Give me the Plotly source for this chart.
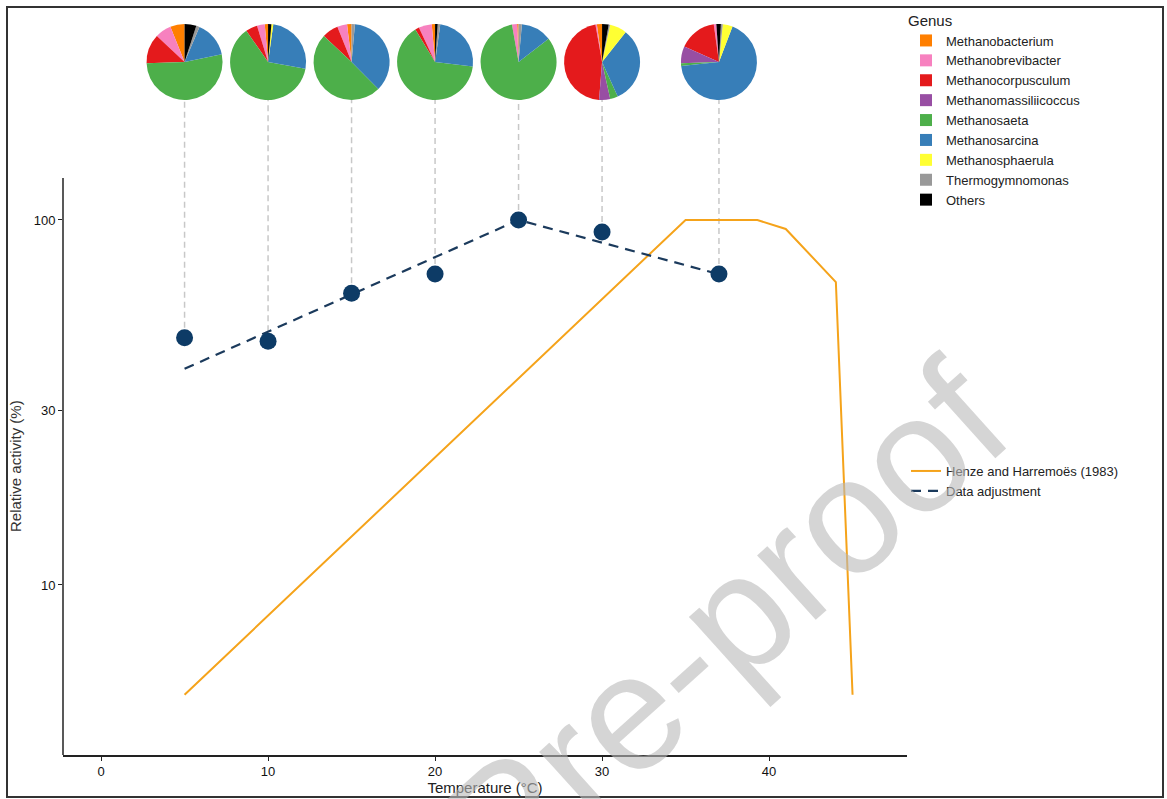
import plotly.graph_objects as go

# ---------------- data ----------------
genus = ["Methanobacterium", "Methanobrevibacter", "Methanocorpusculum",
         "Methanomassiliicoccus", "Methanosaeta", "Methanosarcina",
         "Methanosphaerula", "Thermogymnomonas", "Others"]
genus_colors = ["#FF7F00", "#F781BF", "#E41A1C", "#984EA3", "#4DAF4A",
                "#377EB8", "#FFFF33", "#999999", "#000000"]

pie_temps = [5, 10, 15, 20, 25, 30, 37]
pie_5 = [6.1, 6.9, 12.5, 0, 52.8, 15.3, 0, 1.4, 5.0]
pie_10 = [1.4, 3.3, 5.0, 0, 62.5, 25.6, 0.8, 0, 1.4]
pie_15 = [1.9, 4.2, 6.9, 0, 49.4, 36.1, 0, 1.4, 0]
pie_20 = [1.4, 5.6, 1.7, 0, 64.4, 24.7, 0, 1.1, 1.1]
pie_25 = [0.6, 2.2, 0, 0, 82.8, 13.1, 0, 1.4, 0]
pie_30 = [2.2, 0.6, 45.8, 4.7, 3.3, 32.5, 7.2, 0.6, 2.8]
pie_37 = [0, 1.1, 16.1, 7.2, 1.1, 67.5, 4.2, 0.8, 1.9]
pie_values = [pie_5, pie_10, pie_15, pie_20, pie_25, pie_30, pie_37]

obs_temp = [5, 10, 15, 20, 25, 30, 37]
obs_activity = [47.6, 46.5, 63.0, 71.1, 100, 92.7, 71.1]

fit_temp = [5, 25, 37]
fit_activity = [39.1, 100, 71.0]

henze_temp = [5, 35, 39.3, 41, 44, 45]
henze_activity = [5.0, 100, 100, 94.5, 67.6, 5.0]

x_ticks = [0, 10, 20, 30, 40]
y_ticks = [10, 30, 100]

# ---------------- layout geometry ----------------
W, H = 1167, 799
ML, MR, MT, MB = 63, 260, 20, 44
PW, PH = W - ML - MR, H - MT - MB
X_RANGE = [-2.28, 48.26]
Y_LOG_RANGE = [0.534, 2.548]
AXIS_TOP_PX = 178          # top of visible y-axis line
PIE_CY_PX = 62             # pie centre (px from top)
PIE_R_PX = 38              # pie radius in px
FONT = "Liberation Sans, Arial, sans-serif"


def px_to_py(py):
    return (H - MB - py) / PH


def px_to_px(px):
    return (px - ML) / PW


def x_to_paper(v):
    return (v - X_RANGE[0]) / (X_RANGE[1] - X_RANGE[0])


pie_bottom_log = Y_LOG_RANGE[1] - (PIE_CY_PX + PIE_R_PX - MT) / PH * (Y_LOG_RANGE[1] - Y_LOG_RANGE[0])
pie_bottom_val = 10 ** pie_bottom_log

fig = go.Figure()

# connectors
for t, v in zip(obs_temp, obs_activity):
    fig.add_trace(go.Scatter(x=[t, t], y=[v, pie_bottom_val], mode="lines",
                             line=dict(color="#c8c8c8", width=1.5, dash="6px,4px"),
                             showlegend=False, hoverinfo="skip"))

fig.add_trace(go.Scatter(x=henze_temp, y=henze_activity, mode="lines",
                         name="Henze and Harremoës (1983)",
                         line=dict(color="#F5A31A", width=2), legend="legend2"))
fig.add_trace(go.Scatter(x=fit_temp, y=fit_activity, mode="lines",
                         name="Data adjustment",
                         line=dict(color="#1B3A5C", width=2.2, dash="10px,7px"),
                         legend="legend2"))
fig.add_trace(go.Scatter(x=obs_temp, y=obs_activity, mode="markers",
                         marker=dict(color="#0D3B66", size=17),
                         showlegend=False))

# pies (first slice starts at 12 o'clock and runs counter-clockwise)
rx = PIE_R_PX / PW
cy = px_to_py(PIE_CY_PX)
ry = PIE_R_PX / PH
for i, (t, vals) in enumerate(zip(pie_temps, pie_values)):
    cx = x_to_paper(t)
    first_share = next((v for v in vals if v > 0), 0) / sum(vals)
    fig.add_trace(go.Pie(labels=genus, values=vals, sort=False,
                         direction="counterclockwise", rotation=-360 * first_share,
                         marker=dict(colors=genus_colors, line=dict(width=0)),
                         textinfo="none", hole=0,
                         domain=dict(x=[cx - rx, cx + rx], y=[cy - ry, cy + ry]),
                         showlegend=(i == 0), legend="legend", name=f"{t} °C"))

fig.update_layout(
    width=W, height=H,
    margin=dict(l=ML, r=MR, t=MT, b=MB, autoexpand=False),
    paper_bgcolor="white", plot_bgcolor="white",
    font=dict(family=FONT, color="#222"),
    xaxis=dict(range=X_RANGE, tickvals=x_ticks, showgrid=False, zeroline=False,
               showline=True, linecolor="#222", linewidth=1.5,
               ticks="outside", ticklen=4, tickcolor="#222",
               tickfont=dict(size=13, color="#111"),
               title=dict(text="Temperature (°C)", font=dict(size=15, color="#222"), standoff=2)),
    yaxis=dict(type="log", range=Y_LOG_RANGE, tickvals=y_ticks,
               ticktext=[str(v) for v in y_ticks], showgrid=False, zeroline=False,
               showline=False, ticks="outside", ticklen=4, tickcolor="#222",
               tickfont=dict(size=13, color="#111")),
    legend=dict(x=px_to_px(906), y=px_to_py(6), xanchor="left", yanchor="top",
                title=dict(text="Genus", font=dict(size=15)),
                font=dict(size=13, color="#222"), bgcolor="rgba(0,0,0,0)",
                tracegroupgap=0, itemwidth=30),
    legend2=dict(x=px_to_px(906), y=px_to_py(481), xanchor="left", yanchor="middle",
                 font=dict(size=13, color="#222"), bgcolor="rgba(0,0,0,0)", itemwidth=30),
    shapes=[
        dict(type="line", xref="paper", yref="paper", x0=0, x1=0,
             y0=0, y1=px_to_py(AXIS_TOP_PX), line=dict(color="#222", width=1.5)),
        dict(type="rect", xref="paper", yref="paper",
             x0=px_to_px(7), x1=px_to_px(1163), y0=px_to_py(797), y1=px_to_py(7),
             line=dict(color="#333", width=2), layer="above"),
    ],
    annotations=[
        dict(text="Relative activity (%)", xref="paper", yref="paper",
             x=px_to_px(15), y=px_to_py(466), textangle=-90, showarrow=False,
             font=dict(size=15, color="#333"), xanchor="center", yanchor="middle"),
        dict(text="Pre-proof", xref="paper", yref="paper",
             x=px_to_px(725), y=px_to_py(625), textangle=-42, showarrow=False,
             font=dict(size=165, color="rgba(185,185,185,0.6)"),
             xanchor="center", yanchor="middle"),
    ],
)

fig.write_html("out.html", config={"displayModeBar": False},
               post_script="document.body.style.margin='0';")
